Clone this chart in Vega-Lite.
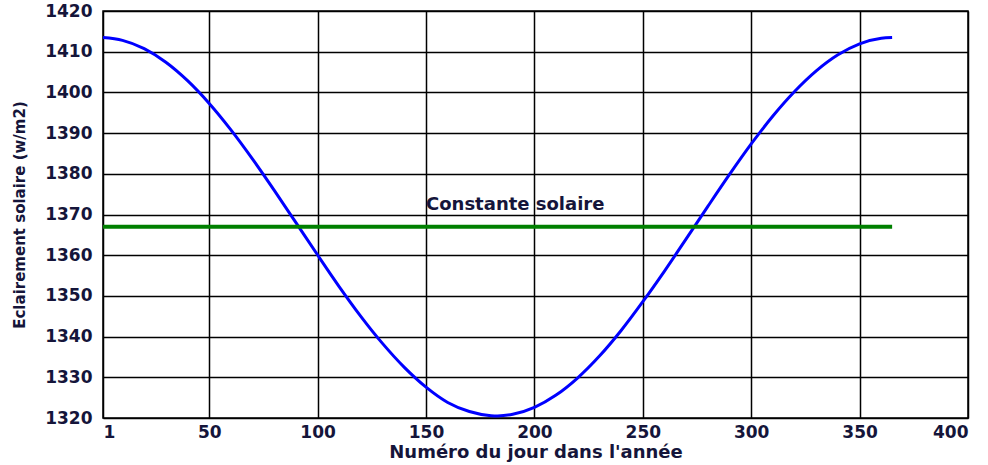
{
  "$schema": "https://vega.github.io/schema/vega-lite/v6.json",
  "autosize": "none",
  "width": 865,
  "height": 407,
  "padding": {"left": 103, "top": 11, "right": 20, "bottom": 47},
  "background": "white",
  "config": {
    "view": {"stroke": "black", "strokeWidth": 1.5},
    "axis": {
      "grid": true, "gridColor": "black", "gridOpacity": 1, "gridWidth": 1.5,
      "domain": false, "ticks": false,
      "labelFont": "DejaVu Sans", "labelFontWeight": "bold", "labelColor": "#15153a",
      "titleColor": "#15153a", "titleFontWeight": "bold", "titleFont": "DejaVu Sans"
    }
  },
  "datasets": {
    "curve": [
      {"jour": 1, "E": 1413.47}, {"jour": 10, "E": 1412.79}, {"jour": 20, "E": 1410.75},
      {"jour": 30, "E": 1407.42}, {"jour": 40, "E": 1402.89}, {"jour": 50, "E": 1397.30},
      {"jour": 60, "E": 1390.81}, {"jour": 70, "E": 1383.62}, {"jour": 80, "E": 1375.94},
      {"jour": 90, "E": 1368.00}, {"jour": 100, "E": 1360.04}, {"jour": 110, "E": 1352.24},
      {"jour": 120, "E": 1344.92}, {"jour": 130, "E": 1338.27}, {"jour": 140, "E": 1332.44},
      {"jour": 150, "E": 1327.58}, {"jour": 160, "E": 1323.82}, {"jour": 170, "E": 1321.59},
      {"jour": 180, "E": 1320.57}, {"jour": 183, "E": 1320.52}, {"jour": 190, "E": 1320.91},
      {"jour": 200, "E": 1322.62}, {"jour": 210, "E": 1325.63}, {"jour": 220, "E": 1329.87},
      {"jour": 230, "E": 1335.21}, {"jour": 240, "E": 1341.50}, {"jour": 250, "E": 1348.57},
      {"jour": 260, "E": 1356.10}, {"jour": 270, "E": 1364.00}, {"jour": 280, "E": 1371.99},
      {"jour": 290, "E": 1379.84}, {"jour": 300, "E": 1387.33}, {"jour": 310, "E": 1394.20},
      {"jour": 320, "E": 1400.22}, {"jour": 330, "E": 1405.29}, {"jour": 340, "E": 1409.24},
      {"jour": 350, "E": 1411.94}, {"jour": 360, "E": 1413.31}, {"jour": 365, "E": 1413.48}
    ],
    "constante": [{"jour": 1, "E": 1367}, {"jour": 365, "E": 1367}],
    "label": [{"jour": 150, "E": 1371, "texte": "Constante solaire"}]
  },
  "layer": [
    {
      "data": {"name": "curve"},
      "mark": {"type": "line", "color": "#0000ff", "strokeWidth": 3, "interpolate": "monotone"},
      "encoding": {
        "x": {"field": "jour", "type": "quantitative",
              "scale": {"domain": [1, 400], "nice": false, "zero": false},
              "axis": {"values": [1, 50, 100, 150, 200, 250, 300, 350, 400], "format": "d",
                       "title": "Numéro du jour dans l'année", "titleFontSize": 18,
                       "labelFontSize": 17, "labelPadding": 6, "titlePadding": 3}},
        "y": {"field": "E", "type": "quantitative",
              "scale": {"domain": [1320, 1420], "nice": false, "zero": false},
              "axis": {"values": [1320, 1330, 1340, 1350, 1360, 1370, 1380, 1390, 1400, 1410, 1420], "format": "d",
                       "title": "Eclairement solaire (w/m2)", "titleFontSize": 15,
                       "labelFontSize": 17, "labelPadding": 11, "titlePadding": 17}}
      }
    },
    {
      "data": {"name": "constante"},
      "mark": {"type": "line", "color": "#008000", "strokeWidth": 4},
      "encoding": {
        "x": {"field": "jour", "type": "quantitative"},
        "y": {"field": "E", "type": "quantitative"}
      }
    },
    {
      "data": {"name": "label"},
      "mark": {"type": "text", "align": "left", "baseline": "alphabetic", "font": "DejaVu Sans",
               "fontWeight": "bold", "fontSize": 18, "color": "#15153a"},
      "encoding": {
        "x": {"field": "jour", "type": "quantitative"},
        "y": {"field": "E", "type": "quantitative"},
        "text": {"field": "texte"}
      }
    }
  ]
}
